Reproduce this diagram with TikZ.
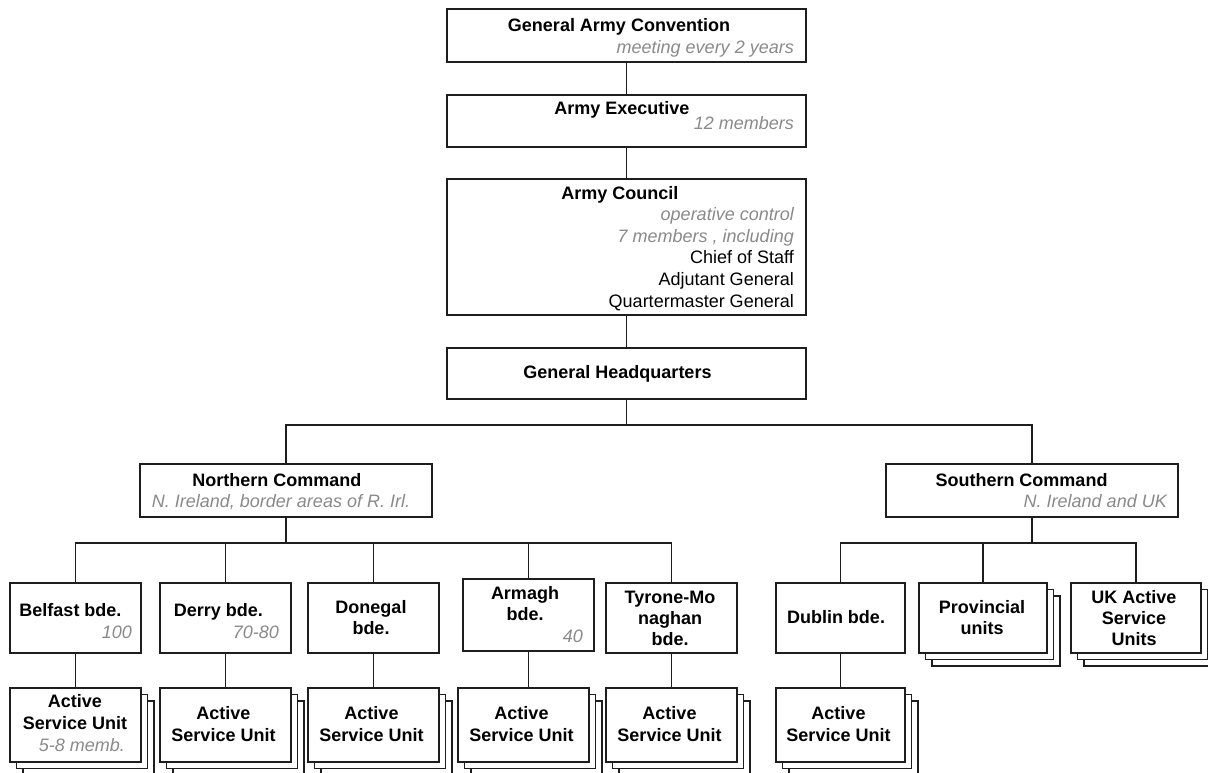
\documentclass[tikz,border=0pt]{standalone}
\usepackage{fontspec}
\setmainfont{Liberation Sans}
\usetikzlibrary{shadows}
\definecolor{subgray}{HTML}{8A8A8A}
\definecolor{linec}{HTML}{1E1E1E}
\begin{document}
\fontsize{18}{21}\selectfont
\begin{tikzpicture}[x=1pt,y=-1pt,
  box/.style={draw=linec, line width=1.5pt, fill=white, inner sep=0pt},
  stackbox/.style={box, double copy shadow={shadow xshift=6.5pt, shadow yshift=-6.5pt}},
  conn/.style={draw=linec, line width=1.5pt},
  ttl/.style={font=\bfseries, inner sep=0pt, anchor=base},
  sub/.style={font=\itshape, text=subgray, inner sep=0pt, anchor=base east},
  reg/.style={inner sep=0pt, anchor=base east}]
\fill[white] (0,0) rectangle (1208,772);
\clip (0,0) rectangle (1208,772);
% boxes
\node[box, minimum width=359pt, minimum height=53pt] (gac) at (626.5,35.5) {};
\node[box, minimum width=359pt, minimum height=52pt] (ae) at (626.5,121) {};
\node[box, minimum width=359pt, minimum height=136pt] (ac) at (626.5,247) {};
\node[box, minimum width=359pt, minimum height=51pt] (ghq) at (626.5,373.5) {};
\node[box, minimum width=292pt, minimum height=53pt] (nc) at (286,490.5) {};
\node[box, minimum width=292pt, minimum height=53pt] (sc) at (1032,490.5) {};
\node[box, minimum width=131pt, minimum height=70pt] (belfast) at (75.5,618) {};
\node[box, minimum width=131pt, minimum height=70pt] (derry) at (225.5,618) {};
\node[box, minimum width=131pt, minimum height=70pt] (donegal) at (373.5,618) {};
\node[box, minimum width=131pt, minimum height=72pt] (armagh) at (528.5,615) {};
\node[box, minimum width=131pt, minimum height=70pt] (tyrone) at (671.5,618) {};
\node[box, minimum width=129pt, minimum height=70pt] (dublin) at (840.5,618) {};
\node[stackbox, minimum width=128pt, minimum height=70pt] (prov) at (983,618) {};
\node[stackbox, minimum width=130pt, minimum height=70pt] (uk) at (1136,618) {};
\node[stackbox, minimum width=131pt, minimum height=74pt] (asu1) at (75.5,725) {};
\node[stackbox, minimum width=131pt, minimum height=74pt] (asu2) at (225.5,725) {};
\node[stackbox, minimum width=131pt, minimum height=74pt] (asu3) at (373.5,725) {};
\node[stackbox, minimum width=131pt, minimum height=74pt] (asu4) at (523.5,725) {};
\node[stackbox, minimum width=131pt, minimum height=74pt] (asu5) at (671.5,725) {};
\node[stackbox, minimum width=129pt, minimum height=74pt] (asu6) at (840.5,725) {};
% connectors
\draw[conn] (gac.south) -- (ae.north);
\draw[conn] (ae.south) -- (ac.north);
\draw[conn] (ac.south) -- (ghq.north);
\coordinate (jh) at (626.5,425);
\draw[conn] (ghq.south) -- (jh);
\draw[conn] (jh) -| (nc.north);
\draw[conn] (jh) -| (sc.north);
\coordinate (jn) at (286,543);
\draw[conn] (nc.south) -- (jn);
\foreach \b in {belfast,derry,donegal,armagh,tyrone} {\draw[conn] (jn) -| (\b.north);}
\coordinate (js) at (1032,543);
\draw[conn] (sc.south) -- (js);
\foreach \b in {dublin,prov,uk} {\draw[conn] (js) -| (\b.north);}
\draw[conn] (belfast.south) -- (belfast.south |- asu1.north);
\draw[conn] (derry.south) -- (derry.south |- asu2.north);
\draw[conn] (donegal.south) -- (donegal.south |- asu3.north);
\draw[conn] (armagh.south) -- (armagh.south |- asu4.north);
\draw[conn] (tyrone.south) -- (tyrone.south |- asu5.north);
\draw[conn] (dublin.south) -- (dublin.south |- asu6.north);
% texts
\node[ttl] (gact) at (619,31) {General Army Convention};
\node[sub] (gacs) at (794,53) {meeting every 2 years};
\node[ttl] (aet) at (622,114) {Army Executive};
\node[sub] (aes) at (794,129) {12 members};
\node[ttl] (act) at (620,199) {Army Council};
\node[sub] (acs1) at (794,220) {operative control};
\node[sub] (acs2) at (794,242) {7 members , including};
\node[reg] (acr1) at (794,263) {Chief of Staff};
\node[reg] (acr2) at (794,285) {Adjutant General};
\node[reg] (acr3) at (794,307) {Quartermaster General};
\node[ttl] (ghqt) at (617.5,378) {General Headquarters};
\node[ttl] (nct) at (277,486) {Northern Command};
\node[sub, anchor=base] (ncs) at (281,507) {N. Ireland, border areas of R. Irl.};
\node[ttl] (sct) at (1021.5,486) {Southern Command};
\node[sub] (scs) at (1167,507) {N. Ireland and UK};
\node[ttl] (belt) at (70.5,616) {Belfast bde.};
\node[sub] (bels) at (132,638) {100};
\node[ttl] (dert) at (218.5,616) {Derry bde.};
\node[sub] (ders) at (279,638) {70-80};
\node[ttl] (dont1) at (371,613) {Donegal};
\node[ttl] (dont2) at (371,634) {bde.};
\node[ttl] (armt1) at (525,599) {Armagh};
\node[ttl] (armt2) at (525,620) {bde.};
\node[sub] (arms) at (583,642) {40};
\node[ttl] (tyrt1) at (670,603) {Tyrone-Mo};
\node[ttl] (tyrt2) at (670,624) {naghan};
\node[ttl] (tyrt3) at (670,645) {bde.};
\node[ttl] (dubt) at (836,623) {Dublin bde.};
\node[ttl] (prot1) at (982,613) {Provincial};
\node[ttl] (prot2) at (982,634) {units};
\node[ttl] (ukt1) at (1134,603) {UK Active};
\node[ttl] (ukt2) at (1134,624) {Service};
\node[ttl] (ukt3) at (1134,645) {Units};
\node[ttl] (a1t1) at (75,707) {Active};
\node[ttl] (a1t2) at (75,729) {Service Unit};
\node[sub, anchor=base] (a1s) at (82,751) {5-8 memb.};
\foreach \n/\x in {2/223.5,3/371.5,4/521.5,5/669.5,6/838.5} {
  \node[ttl] (a\n t1) at (\x,719) {Active};
  \node[ttl] (a\n t2) at (\x,741) {Service Unit};
}
\end{tikzpicture}
\end{document}
